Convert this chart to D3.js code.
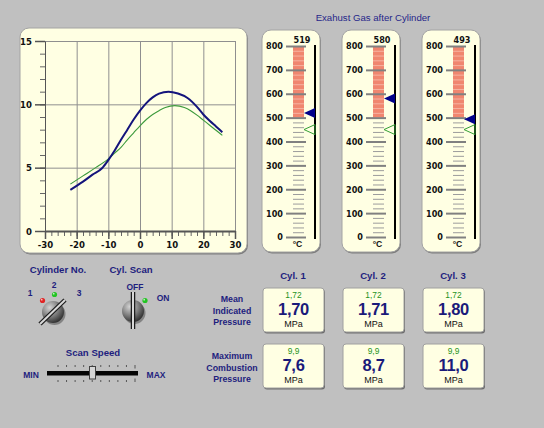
<!DOCTYPE html>
<html><head><meta charset="utf-8">
<script src="https://cdn.jsdelivr.net/npm/d3@7"></script>
<style>
html,body{margin:0;padding:0;background:#c0c0c0;}
svg{display:block;font-family:Arial,"Liberation Sans",sans-serif;}
</style></head>
<body>
<svg id="c" width="544" height="428"></svg>
<script>
// ---------- data ----------
const crankAngle = [-22,-18,-15,-12,-10,-8,-6,-4,-2,0,2,4,6,9,12,15,18,20,22,24,26];
const pressureActual = [3.25,3.9,4.45,4.95,5.6,6.35,7.2,8.0,8.8,9.5,10.1,10.55,10.85,11.0,10.85,10.5,9.8,9.2,8.7,8.25,7.8];
const angleRef = [-22,-18,-14,-10,-8,-6,-4,-2,0,2,4,6,8,11,14,16,18,20,22,24,26];
const pressureRef = [3.7,4.35,5.0,5.7,6.15,6.6,7.2,7.75,8.3,8.8,9.2,9.5,9.75,9.9,9.75,9.5,9.15,8.75,8.35,7.95,7.55];
const xTicks = [-30,-20,-10,0,10,20,30];
const yTicks = [0,5,10,15];
const cylinders = ["Cyl. 1","Cyl. 2","Cyl. 3"];
const exhaustTemp = [519,580,493];
const exhaustSet = [450,450,450];
const tempTicks = [0,100,200,300,400,500,600,700,800];
const tempAlarm = 500;
const mipActual = [1.70,1.71,1.80];
const mipRef = [1.72,1.72,1.72];
const pmaxActual = [7.6,8.7,11.0];
const pmaxRef = [9.9,9.9,9.9];

// ---------- setup ----------
const svg = d3.select("#c");
const NAVY = "#1e1e7e";
const CREAM = "#ffffe3";
const defs = svg.append("defs");
const kg = defs.append("radialGradient").attr("id","knob").attr("cx","35%").attr("cy","30%").attr("r","75%");
kg.append("stop").attr("offset","0%").attr("stop-color","#d4d4d4");
kg.append("stop").attr("offset","55%").attr("stop-color","#7c7c7c");
kg.append("stop").attr("offset","100%").attr("stop-color","#2c2c2c");

svg.append("rect").attr("width",544).attr("height",428).attr("fill","#c0c0c0");

function panel(x,y,w,h,r){
  svg.append("rect").attr("x",x+1).attr("y",y+1.5).attr("width",w).attr("height",h).attr("rx",r)
    .attr("fill","#7c7c7c");
  svg.append("rect").attr("x",x).attr("y",y).attr("width",w).attr("height",h).attr("rx",r)
    .attr("fill",CREAM).attr("stroke","#a4a4a4").attr("stroke-width",1);
}
const fmt2 = v => d3.format(".2f")(v).replace(".",",");
const fmt1 = v => d3.format(".1f")(v).replace(".",",");
const NARROW = "'Liberation Sans Narrow','DejaVu Sans Condensed',Arial,sans-serif";

// ---------- pressure chart ----------
panel(20,28,227,225,9);
const x = d3.scaleLinear().domain([-30,30]).range([45,235]);
const y = d3.scaleLinear().domain([0,15]).range([231,41]);
const cg = svg.append("g");
// grid
cg.append("g").attr("transform","translate(0,231)")
  .call(d3.axisBottom(x).tickValues(xTicks.slice(1)).tickSize(-190).tickFormat(""))
  .call(g=>{g.select(".domain").remove();g.selectAll("line").attr("stroke","#8f8f8f");});
cg.append("g").attr("transform","translate(45,0)")
  .call(d3.axisLeft(y).tickValues(yTicks.slice(1)).tickSize(-190).tickFormat(""))
  .call(g=>{g.select(".domain").remove();g.selectAll("line").attr("stroke","#8f8f8f");});
// minor ticks
cg.append("g").attr("transform","translate(0,231)")
  .call(d3.axisBottom(x).tickValues(d3.range(-30,31,2)).tickSize(5).tickFormat(""))
  .call(g=>{g.select(".domain").remove();g.selectAll("line").attr("stroke","#666");});
cg.append("g").attr("transform","translate(45,0)")
  .call(d3.axisLeft(y).tickValues(d3.range(0,16,1)).tickSize(5).tickFormat(""))
  .call(g=>{g.select(".domain").remove();g.selectAll("line").attr("stroke","#666");});
// major axes
cg.append("g").attr("transform","translate(0,231)")
  .call(d3.axisBottom(x).tickValues(xTicks).tickSize(8).tickSizeOuter(0).tickPadding(2).tickFormat(d=>String(d)))
  .call(g=>{g.select(".domain").attr("stroke","#555").attr("stroke-width",2);
    g.selectAll("line").attr("stroke","#555").attr("stroke-width",1.5);
    g.selectAll("text").attr("font-size",9.5).attr("font-weight","bold").attr("fill","#111")
     .attr("font-family",NARROW);});
cg.append("g").attr("transform","translate(45,0)")
  .call(d3.axisLeft(y).tickValues(yTicks).tickSize(10).tickSizeOuter(0).tickPadding(3).tickFormat(d=>String(d)))
  .call(g=>{g.select(".domain").attr("stroke","#555").attr("stroke-width",1);
    g.selectAll("line").attr("stroke","#555").attr("stroke-width",1.5);
    g.selectAll("text").attr("font-size",9.5).attr("font-weight","bold").attr("fill","#111")
     .attr("font-family",NARROW);});
// curves
const lineA = d3.line().x((d,i)=>x(crankAngle[i])).y(d=>y(d)).curve(d3.curveMonotoneX);
const lineR = d3.line().x((d,i)=>x(angleRef[i])).y(d=>y(d)).curve(d3.curveMonotoneX);
cg.append("path").attr("d",lineR(pressureRef)).attr("fill","none").attr("stroke","#3c9a3c").attr("stroke-width",1.1);
cg.append("path").attr("d",lineA(pressureActual)).attr("fill","none").attr("stroke","#14147c").attr("stroke-width",2);

// ---------- exhaust gas thermometers ----------
svg.append("text").attr("x",373).attr("y",20.5).attr("text-anchor","middle")
  .attr("font-size",9.6).attr("fill","#26268a").text("Exahust Gas after Cylinder");
const t = d3.scaleLinear().domain([0,800]).range([237,46]);
cylinders.forEach((c,i)=>{
  const ox = 262 + i*80;
  panel(ox,30,58,222,9);
  const g = svg.append("g");
  g.append("rect").attr("x",ox+31).attr("y",t(800)).attr("width",11).attr("height",t(tempAlarm)-t(800))
    .attr("fill","#f0866f");
  const minors = d3.range(0,801,20).filter(v=>v%100!==0);
  g.append("g").attr("transform",`translate(${ox+42},0)`)
    .call(d3.axisLeft(t).tickValues(minors).tickSize(11).tickFormat(""))
    .call(a=>{a.select(".domain").remove();
      a.selectAll("line").attr("stroke",d=>d>tempAlarm?"#f6b3a2":"#9c9c9c").attr("stroke-width",1);});
  g.append("g").attr("transform",`translate(${ox+44},0)`)
    .call(d3.axisLeft(t).tickValues(tempTicks).tickSize(20).tickPadding(3))
    .call(a=>{a.select(".domain").remove();
      a.selectAll("line").attr("stroke","#808080").attr("stroke-width",2);
      a.selectAll("text").attr("font-size",9).attr("font-weight","bold").attr("fill","#111")
       .attr("font-family",NARROW);});
  g.append("line").attr("x1",ox+53).attr("x2",ox+53).attr("y1",t(800)-1).attr("y2",t(0)+2)
    .attr("stroke","#000").attr("stroke-width",2);
  const ys = t(exhaustSet[i]);
  g.append("path").attr("d",`M${ox+42},${ys}L${ox+53},${ys-5}L${ox+53},${ys+5}Z`)
    .attr("fill","none").attr("stroke","#35a035").attr("stroke-width",1);
  const ya = t(exhaustTemp[i]);
  g.append("path").attr("d",`M${ox+42},${ya}L${ox+53},${ya-5}L${ox+53},${ya+5}Z`).attr("fill","#00008a");
  g.append("text").attr("x",ox+40).attr("y",42.5).attr("text-anchor","middle")
    .attr("font-size",9).attr("font-weight","bold").attr("fill","#111").attr("font-family",NARROW).text(exhaustTemp[i]);
  g.append("text").attr("x",ox+35.5).attr("y",247).attr("text-anchor","middle")
    .attr("font-size",8.6).attr("font-weight","bold").attr("fill","#111").text("°C");
});

// ---------- controls ----------
function label(tx,x0,y0,opts={}){
  return svg.append("text").attr("x",x0).attr("y",y0).attr("text-anchor",opts.anchor||"middle")
    .attr("font-size",opts.size||9.3).attr("font-weight","bold").attr("fill",opts.fill||NAVY).text(tx);
}
label("Cylinder No.",58,272.5,{size:9.6});
label("Cyl. Scan",131,272.5,{size:9.6});
label("1",30,296,{size:8.5});
label("2",54,288,{size:8.5});
label("3",79,296,{size:8.5});
label("OFF",135,290,{size:8.5});
label("ON",163,300.5,{size:8.5});

function knob(cx,cy,x1,y1,x2,y2){
  svg.append("circle").attr("cx",cx+1.5).attr("cy",cy+2).attr("r",11).attr("fill","#5a5a5a").attr("opacity",0.6);
  svg.append("circle").attr("cx",cx).attr("cy",cy).attr("r",11).attr("fill","url(#knob)");
  svg.append("line").attr("x1",x1).attr("y1",y1).attr("x2",x2).attr("y2",y2)
    .attr("stroke","#1c1c1c").attr("stroke-width",4.5).attr("stroke-linecap","butt");
  svg.append("line").attr("x1",x1).attr("y1",y1).attr("x2",x2).attr("y2",y2)
    .attr("stroke","#d8d8d8").attr("stroke-width",2).attr("stroke-linecap","butt");
}
knob(53,312,40,324,65,300);
knob(133,311,133,292,133,329);
function led(cx,cy,col){
  svg.append("circle").attr("cx",cx).attr("cy",cy).attr("r",2.6).attr("fill",col);
  svg.append("circle").attr("cx",cx-0.8).attr("cy",cy-0.8).attr("r",0.9).attr("fill","#fff").attr("opacity",0.7);
}
led(42.5,300.5,"#e02424");
led(54.5,294.5,"#22c422");
led(145,300.5,"#22c422");

label("Scan Speed",93,356,{size:9.6});
label("MIN",31,377.5,{size:8.5});
label("MAX",156,377.5,{size:8.5});
const sp = d3.scaleLinear().domain([0,9]).range([58,135]);
const spTicks = d3.range(0,10);
svg.append("g").selectAll("line.a").data(spTicks).join("line")
  .attr("x1",d=>sp(d)).attr("x2",d=>sp(d)).attr("y1",365).attr("y2",d=>d===9?368.5:367)
  .attr("stroke","#555").attr("stroke-width",1);
svg.append("g").selectAll("line.b").data(spTicks).join("line")
  .attr("x1",d=>sp(d)).attr("x2",d=>sp(d)).attr("y1",d=>d===9?378.5:380).attr("y2",382)
  .attr("stroke","#555").attr("stroke-width",1);
svg.append("rect").attr("x",47).attr("y",371).attr("width",91).attr("height",4.5).attr("fill","#050505");
svg.append("rect").attr("x",89.5).attr("y",366.5).attr("width",6).attr("height",12.5)
  .attr("fill","#d6d6d6").attr("stroke","#404040").attr("stroke-width",1);

// ---------- pressure boxes ----------
cylinders.forEach((c,i)=>{
  label(c,293+i*80,278.5,{size:9.6});
});
[["Mean","Indicated","Pressure"],["Maximum","Combustion","Pressure"]].forEach((lines,r)=>{
  lines.forEach((l,k)=>label(l,232,302+k*11.5+r*57,{size:8.8}));
});
function valueBox(x0,y0,ref,act){
  svg.append("rect").attr("x",x0+1).attr("y",y0+1.5).attr("width",61).attr("height",44).attr("rx",3).attr("fill","#6e6e6e");
  svg.append("rect").attr("x",x0).attr("y",y0).attr("width",61).attr("height",44).attr("rx",3)
    .attr("fill",CREAM).attr("stroke","#a0a0a0");
  const cx = x0+30.5;
  svg.append("text").attr("x",cx).attr("y",y0+10.2).attr("text-anchor","middle").attr("font-size",8.4)
    .attr("fill","#249324").text(ref);
  svg.append("text").attr("x",cx).attr("y",y0+27).attr("text-anchor","middle").attr("font-size",16.5)
    .attr("font-weight","bold").attr("fill","#1a1a7a").attr("letter-spacing",-0.3).text(act);
  svg.append("text").attr("x",cx).attr("y",y0+38.8).attr("text-anchor","middle").attr("font-size",9)
    .attr("fill","#111").text("MPa");
}
cylinders.forEach((c,i)=>{
  valueBox(263+i*80,288,fmt2(mipRef[i]),fmt2(mipActual[i]));
  valueBox(263+i*80,344,fmt1(pmaxRef[i]),fmt1(pmaxActual[i]));
});
</script>
</body></html>
